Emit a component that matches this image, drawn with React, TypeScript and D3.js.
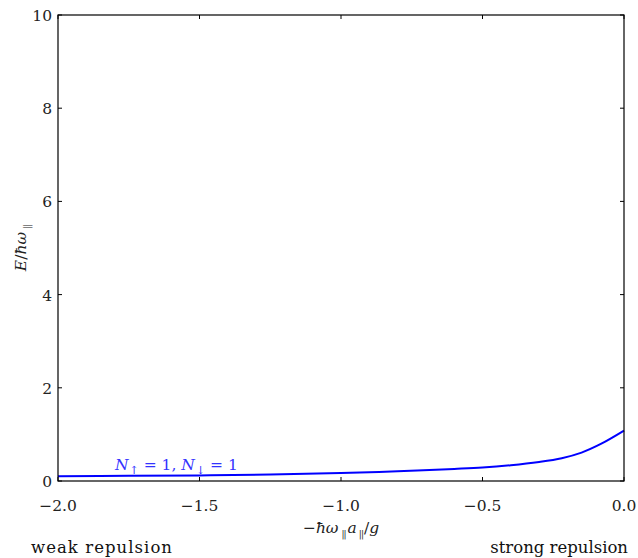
import React from "react";
import * as d3 from "d3";

const xs = [-2.0, -1.75, -1.5, -1.25, -1.0, -0.8, -0.6, -0.5, -0.4, -0.3, -0.22, -0.15, -0.08, 0.0];
const es = [0.10, 0.11, 0.12, 0.14, 0.17, 0.21, 0.26, 0.29, 0.34, 0.41, 0.49, 0.61, 0.80, 1.08];
const xTicks = [-2.0, -1.5, -1.0, -0.5, 0.0];
const yTicks = [0, 2, 4, 6, 8, 10];

const W = 638, H = 558;
const L = 58, R = 624, T = 15, B = 481;
const font = "DejaVu Serif";
const PAR = "||";

export default function App() {
  const x = d3.scaleLinear().domain([-2, 0]).range([L, R]);
  const y = d3.scaleLinear().domain([0, 10]).range([B, T]);
  const line = d3.line<number>().x((_, i) => x(xs[i])).y((d) => y(d)).curve(d3.curveCatmullRom);
  const fmtX = (v: number) => (v < 0 ? "\u2212" : "") + Math.abs(v).toFixed(1);
  const sub = { fontSize: 9, letterSpacing: -1 } as const;
  return (
    <svg width={W} height={H} style={{ position: "absolute", left: 0, top: 0 }} fontFamily={font}>
      <rect x={0} y={0} width={W} height={H} fill="white" />
      <path d={line(es) || ""} fill="none" stroke="#0000ff" strokeWidth={2} />
      <rect x={L} y={T} width={R - L} height={B - T} fill="none" stroke="black" strokeWidth={1.2} />
      {xTicks.map((t) => (
        <g key={"x" + t}>
          <line x1={x(t)} x2={x(t)} y1={B} y2={B - 4} stroke="black" />
          <line x1={x(t)} x2={x(t)} y1={T} y2={T + 4} stroke="black" />
          <text x={x(t)} y={511} fontSize={15.5} textAnchor="middle" fill="#222">{fmtX(t)}</text>
        </g>
      ))}
      {yTicks.map((t) => (
        <g key={"y" + t}>
          <line x1={L} x2={L + 4} y1={y(t)} y2={y(t)} stroke="black" />
          <line x1={R} x2={R - 4} y1={y(t)} y2={y(t)} stroke="black" />
          <text x={52} y={y(t) + 6} fontSize={15.5} textAnchor="end" fill="#222">{t}</text>
        </g>
      ))}
      <text x={115} y={470} fontSize={15.5} fill="#3333ff">
        <tspan fontStyle="italic">N</tspan><tspan fontSize={11} dx={1} dy={4}>↑</tspan>
        <tspan dy={-4}> = 1, </tspan><tspan fontStyle="italic">N</tspan><tspan fontSize={11} dx={1} dy={4}>↓</tspan>
        <tspan dy={-4}> = 1</tspan>
      </text>
      <text x={341} y={533} fontSize={15.5} textAnchor="middle" fill="#222">
        <tspan>−</tspan><tspan fontStyle="italic">ħω</tspan><tspan {...sub} dx={3} dy={4}>{PAR}</tspan>
        <tspan dy={-4} dx={2} fontStyle="italic">a</tspan><tspan {...sub} dx={2} dy={4}>{PAR}</tspan>
        <tspan dy={-4} dx={1}>/</tspan><tspan fontStyle="italic">g</tspan>
      </text>
      <text transform="translate(26,248) rotate(-90)" fontSize={15.5} textAnchor="middle" fill="#222">
        <tspan fontStyle="italic">E</tspan><tspan>/</tspan><tspan fontStyle="italic">ħω</tspan>
        <tspan {...sub} dx={3} dy={4}>{PAR}</tspan>
      </text>
      <text x={31} y={553} fontSize={16.5} fill="#111" textLength={141}>weak repulsion</text>
      <text x={628} y={553} fontSize={16.5} textAnchor="end" fill="#111">strong repulsion</text>
    </svg>
  );
}
